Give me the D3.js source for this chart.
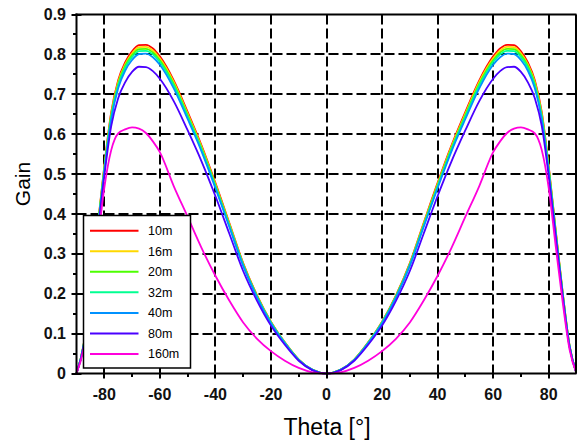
<!DOCTYPE html>
<html><head><meta charset="utf-8">
<script src="https://cdn.jsdelivr.net/npm/d3@7"></script>
<style>body{margin:0;background:#fff}svg{display:block;font-family:"Liberation Sans",Arial,sans-serif}</style>
</head><body><svg id="c" width="577" height="445"></svg>
<script>
const theta = [-90,-87.5,-85,-82.5,-80,-77.5,-75,-72.5,-70,-67.5,-65,-62.5,-60,-55,-50,-45,-40,-35,-30,-25,-20,-15,-10,-5,0,5,10,15,20,25,30,35,40,45,50,55,60,62.5,65,67.5,70,72.5,75,77.5,80,82.5,85,87.5,90];
const seriesNames = ["10m","16m","20m","32m","40m","80m","160m"];
const seriesColors = ["#ff0000","#ffd800","#4cff00","#00ff92","#0092ff","#4a00ff","#ff00dc"];
const gain10m = [0,.07,.205,.36,.52,.655,.735,.78,.808,.823,.824,.815,.795,.735,.656,.572,.478,.378,.277,.196,.13,.078,.035,.009,0,.009,.035,.078,.13,.196,.277,.378,.478,.572,.656,.735,.795,.815,.824,.823,.808,.78,.735,.655,.52,.36,.205,.07,0];
const gain16m = [0,.07,.204,.358,.517,.651,.731,.775,.803,.818,.819,.81,.79,.731,.652,.569,.475,.376,.275,.195,.129,.078,.035,.009,0,.009,.035,.078,.129,.195,.275,.376,.475,.569,.652,.731,.79,.81,.819,.818,.803,.775,.731,.651,.517,.358,.204,.07,0];
const gain20m = [0,.069,.203,.356,.514,.647,.726,.771,.798,.813,.814,.805,.785,.726,.648,.565,.472,.373,.274,.194,.128,.077,.035,.009,0,.009,.035,.077,.128,.194,.274,.373,.472,.565,.648,.726,.785,.805,.814,.813,.798,.771,.726,.647,.514,.356,.203,.069,0];
const gain32m = [0,.069,.201,.354,.511,.643,.722,.766,.793,.808,.809,.8,.781,.722,.644,.562,.469,.371,.272,.192,.128,.077,.034,.009,0,.009,.034,.077,.128,.192,.272,.371,.469,.562,.644,.722,.781,.8,.809,.808,.793,.766,.722,.643,.511,.354,.201,.069,0];
const gain40m = [0,.068,.199,.35,.506,.637,.715,.759,.786,.801,.802,.793,.774,.715,.638,.557,.465,.368,.27,.191,.126,.076,.034,.009,0,.009,.034,.076,.126,.191,.27,.368,.465,.557,.638,.715,.774,.793,.802,.801,.786,.759,.715,.637,.506,.35,.199,.068,0];
const gain80m = [0,.066,.195,.345,.495,.62,.69,.73,.756,.769,.768,.758,.739,.683,.61,.532,.445,.351,.257,.182,.12,.072,.032,.008,0,.008,.032,.072,.12,.182,.257,.351,.445,.532,.61,.683,.739,.758,.768,.769,.756,.73,.69,.62,.495,.345,.195,.066,0];
const gain160m = [0,.06,.18,.32,.465,.56,.602,.612,.617,.614,.603,.582,.555,.47,.393,.315,.245,.183,.128,.087,.056,.032,.014,.003,0,.003,.014,.032,.056,.087,.128,.183,.245,.315,.393,.47,.555,.582,.603,.614,.617,.612,.602,.56,.465,.32,.18,.06,0];
const xTicks = [-80,-60,-40,-20,0,20,40,60,80];
const xMinorTicks = [-70,-50,-30,-10,10,30,50,70];
const yTicks = [0,0.1,0.2,0.3,0.4,0.5,0.6,0.7,0.8,0.9];
const yTickLabels = ["0","0.1","0.2","0.3","0.4","0.5","0.6","0.7","0.8","0.9"];
const yMinorTicks = [0.05,0.15,0.25,0.35,0.45,0.55,0.65,0.75,0.85];
const xLabel = "Theta [°]";
const yLabel = "Gain";

const allGains = [gain10m,gain16m,gain20m,gain32m,gain40m,gain80m,gain160m];
const series = seriesNames.map((n,i)=>({name:n,color:seriesColors[i],values:theta.map((t,j)=>({t:t,g:allGains[i][j]}))}));

const svg = d3.select("#c");
const x = d3.scaleLinear().domain([-90,90]).range([76.5,576.5]);
const y = d3.scaleLinear().domain([0,0.9]).range([373.5,14.5]);
const L = x.range()[0], R = x.range()[1], B = y.range()[0], T = y.range()[1];

// grid
const grid = svg.append("g").attr("stroke","#000").attr("stroke-width",2).attr("stroke-dasharray","10,4");
grid.selectAll("line.v").data(xTicks).join("line").attr("class","v")
  .attr("x1",d=>Math.round(x(d))).attr("x2",d=>Math.round(x(d))).attr("y1",T).attr("y2",B);
grid.selectAll("line.h").data(yTicks.filter(d=>d>0&&d<0.9)).join("line").attr("class","h")
  .attr("y1",d=>Math.round(y(d))).attr("y2",d=>Math.round(y(d))).attr("x1",L).attr("x2",R);

// curves
const line = d3.line().x(d=>x(d.t)).y(d=>y(d.g)).curve(d3.curveMonotoneX);
svg.append("g").selectAll("path").data(series).join("path")
  .attr("d",d=>line(d.values)).attr("fill","none").attr("stroke",d=>d.color).attr("stroke-width",1.8);

// legend
const lg = svg.append("g");
lg.append("rect").attr("x",83.5).attr("y",215.5).attr("width",107).attr("height",152.5)
  .attr("fill","#fff").attr("stroke","#000").attr("stroke-width",1.5);
const ly = d3.scalePoint().domain(seriesNames).range([230.7,354]);
seriesNames.forEach((n,i)=>{
  lg.append("line").attr("x1",90).attr("x2",138.5).attr("y1",ly(n)).attr("y2",ly(n))
    .attr("stroke",seriesColors[i]).attr("stroke-width",2);
  lg.append("text").attr("x",148).attr("y",ly(n)).attr("dy","0.35em")
    .attr("font-size",12.5).attr("fill","#000").text(n);
});

// axes box
const ax = svg.append("g").attr("stroke","#000").attr("stroke-width",2);
ax.append("line").attr("x1",L).attr("x2",L).attr("y1",T-1).attr("y2",B+1);
ax.append("line").attr("x1",L-1).attr("x2",R).attr("y1",B).attr("y2",B);
ax.append("line").attr("x1",L-1).attr("x2",R).attr("y1",T).attr("y2",T);
ax.append("line").attr("x1",R-0.5).attr("x2",R-0.5).attr("y1",T).attr("y2",B);
// ticks
ax.selectAll("line.xt").data(xTicks).join("line").attr("class","xt")
  .attr("x1",d=>Math.round(x(d))).attr("x2",d=>Math.round(x(d))).attr("y1",B-5).attr("y2",B+5);
ax.selectAll("line.xm").data(xMinorTicks).join("line").attr("class","xm")
  .attr("x1",d=>Math.round(x(d))).attr("x2",d=>Math.round(x(d))).attr("y1",B).attr("y2",B+3.5);
ax.selectAll("line.yt").data(yTicks).join("line").attr("class","yt")
  .attr("y1",d=>Math.round(y(d))).attr("y2",d=>Math.round(y(d))).attr("x1",L-5).attr("x2",L+5);
ax.selectAll("line.ym").data(yMinorTicks).join("line").attr("class","ym")
  .attr("y1",d=>Math.round(y(d))).attr("y2",d=>Math.round(y(d))).attr("x1",L-3.5).attr("x2",L);

// tick labels
svg.append("g").selectAll("text").data(xTicks).join("text")
  .attr("x",d=>x(d)).attr("y",400).attr("text-anchor","middle")
  .attr("font-size",16).attr("font-weight","bold").attr("fill","#111").text(d=>String(d));
svg.append("g").selectAll("text").data(yTicks).join("text")
  .attr("x",66).attr("y",d=>y(d)).attr("dy","0.35em").attr("text-anchor","end")
  .attr("font-size",16).attr("font-weight","bold").attr("fill","#111").text((d,i)=>yTickLabels[i]);

// axis titles
svg.append("text").attr("x",327).attr("y",435).attr("text-anchor","middle")
  .attr("font-size",23).attr("fill","#000").text(xLabel);
svg.append("text").attr("transform","translate(30,184) rotate(-90)").attr("text-anchor","middle")
  .attr("font-size",21).attr("fill","#000").text(yLabel);
</script></body></html>
